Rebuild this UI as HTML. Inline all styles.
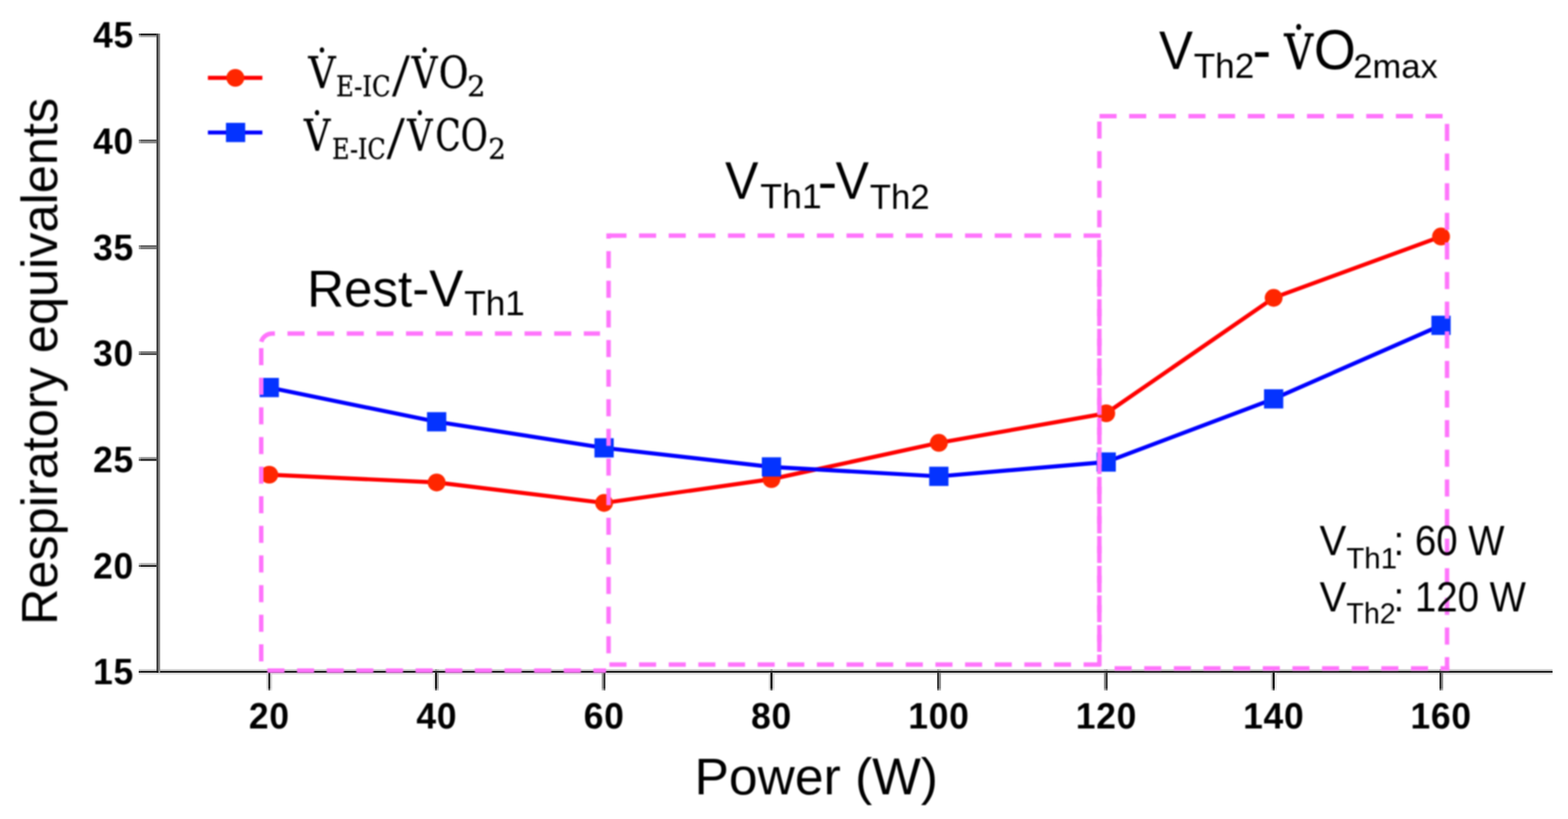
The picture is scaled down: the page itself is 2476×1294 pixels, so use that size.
<!DOCTYPE html>
<html lang="en">
<head>
<meta charset="utf-8">
<title>Respiratory equivalents vs Power</title>
<style>
html,body{margin:0;padding:0;background:#ffffff;}
body{width:2476px;height:1294px;overflow:hidden;}
svg{display:block;}
text{white-space:pre;}
</style>
</head>
<body>
<svg width="2476" height="1294" viewBox="0 0 2476 1294">
<defs>
<filter id="soft" x="0" y="0" width="2476" height="1294" filterUnits="userSpaceOnUse" color-interpolation-filters="sRGB"><feGaussianBlur stdDeviation="1.15"/></filter>
</defs>
<rect x="0" y="0" width="2476" height="1294" fill="#ffffff"/>
<g>
<rect x="221.96" y="52.96" width="25.14" height="2.94" fill="#212121"/>
<rect x="219.06" y="52.96" width="2.90" height="2.94" fill="#5f5f5f"/>
<rect x="221.96" y="55.90" width="25.14" height="3.00" fill="#a8a8a8"/>
<rect x="219.06" y="55.90" width="2.90" height="3.00" fill="#c1c1c1"/>
<rect x="221.96" y="220.50" width="25.14" height="3.10" fill="#545454"/>
<rect x="219.06" y="220.50" width="2.90" height="3.10" fill="#848484"/>
<rect x="221.96" y="223.60" width="25.14" height="2.90" fill="#878787"/>
<rect x="219.06" y="223.60" width="2.90" height="2.90" fill="#a9a9a9"/>
<rect x="221.96" y="387.50" width="25.14" height="3.00" fill="#5c5c5c"/>
<rect x="219.06" y="387.50" width="2.90" height="3.00" fill="#898989"/>
<rect x="221.96" y="390.50" width="25.14" height="3.30" fill="#787878"/>
<rect x="219.06" y="390.50" width="2.90" height="3.30" fill="#9e9e9e"/>
<rect x="221.96" y="554.90" width="25.14" height="3.20" fill="#808080"/>
<rect x="219.06" y="554.90" width="2.90" height="3.20" fill="#a3a3a3"/>
<rect x="221.96" y="558.10" width="25.14" height="2.90" fill="#4f4f4f"/>
<rect x="219.06" y="558.10" width="2.90" height="2.90" fill="#808080"/>
<rect x="221.96" y="721.90" width="25.14" height="3.00" fill="#a1a1a1"/>
<rect x="219.06" y="721.90" width="2.90" height="3.00" fill="#bbbbbb"/>
<rect x="221.96" y="724.90" width="25.14" height="3.40" fill="#333333"/>
<rect x="219.06" y="724.90" width="2.90" height="3.40" fill="#6c6c6c"/>
<rect x="221.96" y="889.40" width="25.14" height="3.30" fill="#b8b8b8"/>
<rect x="219.06" y="889.40" width="2.90" height="3.30" fill="#cccccc"/>
<rect x="221.96" y="892.70" width="25.14" height="3.00" fill="#212121"/>
<rect x="219.06" y="892.70" width="2.90" height="3.00" fill="#5f5f5f"/>
<rect x="221.96" y="896.90" width="25.14" height="2.10" fill="#ededed"/>
<rect x="219.06" y="896.90" width="2.90" height="2.10" fill="#f2f2f2"/>
<rect x="219.10" y="1057.10" width="2232.50" height="2.94" fill="#cfcfcf"/>
<rect x="219.10" y="1062.85" width="2232.50" height="2.90" fill="#dedede"/>
<rect x="219.10" y="1060.04" width="2232.50" height="2.81" fill="#191919"/>
<rect x="219.10" y="1060.04" width="2.90" height="2.81" fill="#383838"/>
<rect x="247.10" y="52.96" width="2.90" height="1009.89" fill="#3d3d3d"/>
<rect x="250.00" y="52.96" width="3.00" height="1009.89" fill="#8c8c8c"/>
<rect x="247.10" y="1060.04" width="2.90" height="2.81" fill="#0d0d0d"/>
<rect x="420.80" y="1062.85" width="3.00" height="25.15" fill="#d6d6d6"/>
<rect x="420.80" y="1088.00" width="3.00" height="2.90" fill="#e2e2e2"/>
<rect x="423.80" y="1062.85" width="3.00" height="25.15" fill="#191919"/>
<rect x="423.80" y="1088.00" width="3.00" height="2.90" fill="#5e5e5e"/>
<rect x="423.80" y="1057.10" width="3.00" height="2.94" fill="#a5a5a5"/>
<rect x="426.80" y="1062.85" width="2.90" height="25.15" fill="#d6d6d6"/>
<rect x="426.80" y="1088.00" width="2.90" height="2.90" fill="#e2e2e2"/>
<rect x="683.70" y="1062.85" width="3.20" height="25.15" fill="#ededed"/>
<rect x="683.70" y="1088.00" width="3.20" height="2.90" fill="#f3f3f3"/>
<rect x="686.90" y="1062.85" width="3.16" height="25.15" fill="#191919"/>
<rect x="686.90" y="1088.00" width="3.16" height="2.90" fill="#5e5e5e"/>
<rect x="686.90" y="1057.10" width="3.16" height="2.94" fill="#a5a5a5"/>
<rect x="690.06" y="1062.85" width="2.90" height="25.15" fill="#ababab"/>
<rect x="690.06" y="1088.00" width="2.90" height="2.90" fill="#c4c4c4"/>
<rect x="690.06" y="1057.10" width="2.90" height="2.94" fill="#bfbfbf"/>
<rect x="950.10" y="1062.85" width="2.80" height="25.15" fill="#999999"/>
<rect x="950.10" y="1088.00" width="2.80" height="2.90" fill="#b8b8b8"/>
<rect x="950.10" y="1057.10" width="2.80" height="2.94" fill="#bcbcbc"/>
<rect x="952.90" y="1062.85" width="3.13" height="25.15" fill="#3b3b3b"/>
<rect x="952.90" y="1088.00" width="3.13" height="2.90" fill="#767676"/>
<rect x="952.90" y="1057.10" width="3.13" height="2.94" fill="#ababab"/>
<rect x="1213.80" y="1062.85" width="2.75" height="25.15" fill="#d9d9d9"/>
<rect x="1213.80" y="1088.00" width="2.75" height="2.90" fill="#e4e4e4"/>
<rect x="1216.55" y="1062.85" width="3.35" height="25.15" fill="#141414"/>
<rect x="1216.55" y="1088.00" width="3.35" height="2.90" fill="#5b5b5b"/>
<rect x="1216.55" y="1057.10" width="3.35" height="2.94" fill="#a4a4a4"/>
<rect x="1219.90" y="1062.85" width="3.00" height="25.15" fill="#d1d1d1"/>
<rect x="1219.90" y="1088.00" width="3.00" height="2.90" fill="#dfdfdf"/>
<rect x="1479.90" y="1062.85" width="2.90" height="25.15" fill="#292929"/>
<rect x="1479.90" y="1088.00" width="2.90" height="2.90" fill="#696969"/>
<rect x="1479.90" y="1057.10" width="2.90" height="2.94" fill="#a8a8a8"/>
<rect x="1482.80" y="1062.85" width="3.10" height="25.15" fill="#8f8f8f"/>
<rect x="1482.80" y="1088.00" width="3.10" height="2.90" fill="#b0b0b0"/>
<rect x="1482.80" y="1057.10" width="3.10" height="2.94" fill="#bababa"/>
<rect x="1743.10" y="1062.85" width="2.80" height="25.15" fill="#8f8f8f"/>
<rect x="1743.10" y="1088.00" width="2.80" height="2.90" fill="#b0b0b0"/>
<rect x="1743.10" y="1057.10" width="2.80" height="2.94" fill="#bababa"/>
<rect x="1745.90" y="1062.85" width="3.20" height="25.15" fill="#3d3d3d"/>
<rect x="1745.90" y="1088.00" width="3.20" height="2.90" fill="#777777"/>
<rect x="1745.90" y="1057.10" width="3.20" height="2.94" fill="#acacac"/>
<rect x="2006.80" y="1062.85" width="2.75" height="25.15" fill="#c4c4c4"/>
<rect x="2006.80" y="1088.00" width="2.75" height="2.90" fill="#d6d6d6"/>
<rect x="2009.55" y="1062.85" width="3.35" height="25.15" fill="#0d0d0d"/>
<rect x="2009.55" y="1088.00" width="3.35" height="2.90" fill="#555555"/>
<rect x="2009.55" y="1057.10" width="3.35" height="2.94" fill="#a3a3a3"/>
<rect x="2012.90" y="1062.85" width="3.00" height="25.15" fill="#e6e6e6"/>
<rect x="2012.90" y="1088.00" width="3.00" height="2.90" fill="#ededed"/>
<rect x="2273.04" y="1062.85" width="3.02" height="25.15" fill="#303030"/>
<rect x="2273.04" y="1088.00" width="3.02" height="2.90" fill="#6e6e6e"/>
<rect x="2273.04" y="1057.10" width="3.02" height="2.94" fill="#a9a9a9"/>
<rect x="2276.06" y="1062.85" width="2.90" height="25.15" fill="#8f8f8f"/>
<rect x="2276.06" y="1088.00" width="2.90" height="2.90" fill="#b0b0b0"/>
<rect x="2276.06" y="1057.10" width="2.90" height="2.94" fill="#bababa"/>
</g>

<g filter="url(#soft)">

<line x1="328.3" y1="123" x2="414.3" y2="123" stroke="#ff0000" stroke-width="6.4"/>
<circle cx="371.6" cy="123" r="14.1" fill="#ff2600"/>
<line x1="328.3" y1="209.4" x2="414.3" y2="209.4" stroke="#0000ff" stroke-width="6.4"/>
<rect x="356.8" y="194.1" width="30.4" height="30.4" fill="#0433ff"/>
<polyline points="425.2,750.0 689.5,762.3 953.9,794.6 1218.2,757.0 1482.5,699.7 1746.8,653.0 2011.2,470.6 2275.5,373.7" fill="none" stroke="#ff0000" stroke-width="6.4" stroke-linejoin="round"/>
<circle cx="425.2" cy="750.0" r="14.1" fill="#ff2600"/>
<circle cx="689.5" cy="762.3" r="14.1" fill="#ff2600"/>
<circle cx="953.9" cy="794.6" r="14.1" fill="#ff2600"/>
<circle cx="1218.2" cy="757.0" r="14.1" fill="#ff2600"/>
<circle cx="1482.5" cy="699.7" r="14.1" fill="#ff2600"/>
<circle cx="1746.8" cy="653.0" r="14.1" fill="#ff2600"/>
<circle cx="2011.2" cy="470.6" r="14.1" fill="#ff2600"/>
<circle cx="2275.5" cy="373.7" r="14.1" fill="#ff2600"/>
<polyline points="425.2,612.3 689.5,666.4 953.9,707.6 1218.2,737.7 1482.5,752.6 1746.8,730.0 2011.2,630.2 2275.5,514.0" fill="none" stroke="#0000ff" stroke-width="6.4" stroke-linejoin="round"/>
<rect x="410.0" y="597.1" width="30.4" height="30.4" fill="#0433ff"/>
<rect x="674.3" y="651.2" width="30.4" height="30.4" fill="#0433ff"/>
<rect x="938.7" y="692.4" width="30.4" height="30.4" fill="#0433ff"/>
<rect x="1203.0" y="722.5" width="30.4" height="30.4" fill="#0433ff"/>
<rect x="1467.3" y="737.4" width="30.4" height="30.4" fill="#0433ff"/>
<rect x="1731.6" y="714.8" width="30.4" height="30.4" fill="#0433ff"/>
<rect x="1996.0" y="615.0" width="30.4" height="30.4" fill="#0433ff"/>
<rect x="2260.3" y="498.8" width="30.4" height="30.4" fill="#0433ff"/>
<g stroke="#ff74fc" stroke-width="7" fill="none" stroke-linecap="butt">
<path d="M412.5 540 A18 18 0 0 1 430.5 527 H433"/>
<line x1="433" y1="527" x2="947.5" y2="527" stroke-dasharray="27.0 19.8" stroke-dashoffset="25.90"/>
<line x1="412.5" y1="545" x2="412.5" y2="1047" stroke-dasharray="27.0 19.8" stroke-dashoffset="41.80"/>
<line x1="421.5" y1="1059.5" x2="957" y2="1059.5" stroke-dasharray="27.0 19.8" stroke-dashoffset="46.10"/>
<line x1="961" y1="368.8" x2="961" y2="1042" stroke-dasharray="27.0 19.8" stroke-dashoffset="18.80"/>
<line x1="957.5" y1="372.3" x2="1739.5" y2="372.3" stroke-dasharray="27.0 19.8" stroke-dashoffset="42.00"/>
<line x1="959" y1="1050" x2="1739.5" y2="1050" stroke-dasharray="27.0 19.8" stroke-dashoffset="43.50"/>
<line x1="1736" y1="376" x2="1736" y2="1046.5" stroke-dasharray="27.0 19.8" stroke-dashoffset="28.30"/>
<line x1="1736" y1="191.9" x2="1736" y2="1052.5" stroke-dasharray="27.0 19.8" stroke-dashoffset="0.00"/>
<line x1="1736.2" y1="183.6" x2="2278" y2="183.6" stroke-dasharray="27.0 19.8" stroke-dashoffset="0.00"/>
<line x1="2285" y1="195.8" x2="2285" y2="1059.5" stroke-dasharray="27.0 19.8" stroke-dashoffset="0.00"/>
<line x1="1760" y1="1056" x2="2288.5" y2="1056" stroke-dasharray="27.0 19.8" stroke-dashoffset="0.00"/>
</g>
<g>
<text transform="translate(147.03 75.20) scale(0.9650 1.0000)" font-family='"Liberation Sans", Arial, Helvetica, sans-serif' font-weight="bold" font-size="58" fill="#000000" letter-spacing="1.17">45</text>
<text transform="translate(147.03 242.87) scale(0.9650 1.0000)" font-family='"Liberation Sans", Arial, Helvetica, sans-serif' font-weight="bold" font-size="58" fill="#000000" letter-spacing="1.17">40</text>
<text transform="translate(147.03 410.54) scale(0.9650 1.0000)" font-family='"Liberation Sans", Arial, Helvetica, sans-serif' font-weight="bold" font-size="58" fill="#000000" letter-spacing="1.17">35</text>
<text transform="translate(147.03 578.21) scale(0.9650 1.0000)" font-family='"Liberation Sans", Arial, Helvetica, sans-serif' font-weight="bold" font-size="58" fill="#000000" letter-spacing="1.17">30</text>
<text transform="translate(147.03 745.88) scale(0.9650 1.0000)" font-family='"Liberation Sans", Arial, Helvetica, sans-serif' font-weight="bold" font-size="58" fill="#000000" letter-spacing="1.17">25</text>
<text transform="translate(147.03 913.55) scale(0.9650 1.0000)" font-family='"Liberation Sans", Arial, Helvetica, sans-serif' font-weight="bold" font-size="58" fill="#000000" letter-spacing="1.17">20</text>
<text transform="translate(147.03 1081.22) scale(0.9650 1.0000)" font-family='"Liberation Sans", Arial, Helvetica, sans-serif' font-weight="bold" font-size="58" fill="#000000" letter-spacing="1.17">15</text>
<text transform="translate(393.12 1151.10) scale(0.9650 1.0000)" font-family='"Liberation Sans", Arial, Helvetica, sans-serif' font-weight="bold" font-size="58" fill="#000000" letter-spacing="1.17">20</text>
<text transform="translate(657.45 1151.10) scale(0.9650 1.0000)" font-family='"Liberation Sans", Arial, Helvetica, sans-serif' font-weight="bold" font-size="58" fill="#000000" letter-spacing="1.17">40</text>
<text transform="translate(921.78 1151.10) scale(0.9650 1.0000)" font-family='"Liberation Sans", Arial, Helvetica, sans-serif' font-weight="bold" font-size="58" fill="#000000" letter-spacing="1.17">60</text>
<text transform="translate(1186.11 1151.10) scale(0.9650 1.0000)" font-family='"Liberation Sans", Arial, Helvetica, sans-serif' font-weight="bold" font-size="58" fill="#000000" letter-spacing="1.17">80</text>
<text transform="translate(1434.31 1151.10) scale(0.9650 1.0000)" font-family='"Liberation Sans", Arial, Helvetica, sans-serif' font-weight="bold" font-size="58" fill="#000000" letter-spacing="1.17">100</text>
<text transform="translate(1698.64 1151.10) scale(0.9650 1.0000)" font-family='"Liberation Sans", Arial, Helvetica, sans-serif' font-weight="bold" font-size="58" fill="#000000" letter-spacing="1.17">120</text>
<text transform="translate(1962.97 1151.10) scale(0.9650 1.0000)" font-family='"Liberation Sans", Arial, Helvetica, sans-serif' font-weight="bold" font-size="58" fill="#000000" letter-spacing="1.17">140</text>
<text transform="translate(2227.30 1151.10) scale(0.9650 1.0000)" font-family='"Liberation Sans", Arial, Helvetica, sans-serif' font-weight="bold" font-size="58" fill="#000000" letter-spacing="1.17">160</text>
<text transform="translate(1096.82 1255.20) scale(1.0050 1.0100)" font-family='"Liberation Sans", Arial, Helvetica, sans-serif' font-weight="normal" font-size="81" fill="#000000">Power (W)</text>
<text transform="translate(90.20 981.00) rotate(-90) translate(-6.48 0.00) scale(0.9964 0.9900)" font-family='"Liberation Sans", Arial, Helvetica, sans-serif' font-weight="normal" font-size="80" fill="#000000">Respiratory equivalents</text>
<text transform="translate(485.04 484.20) scale(1.0088 1.0200)" font-family='"Liberation Sans", Arial, Helvetica, sans-serif' font-weight="normal" font-size="80" fill="#000000">Rest-V</text>
<text transform="translate(732.91 498.20) scale(1.0302 1.0150)" font-family='"Liberation Sans", Arial, Helvetica, sans-serif' font-weight="normal" font-size="54" fill="#000000">Th1</text>
<text transform="translate(1145.02 313.60) scale(0.9548 1.0000)" font-family='"Liberation Sans", Arial, Helvetica, sans-serif' font-weight="normal" font-size="82.56" fill="#000000">V</text>
<text transform="translate(1200.50 329.30) scale(1.0437 1.0150)" font-family='"Liberation Sans", Arial, Helvetica, sans-serif' font-weight="normal" font-size="54" fill="#000000">Th1</text>
<text transform="translate(1291.11 315.98) scale(1.1692 1.0769)" font-family='"Liberation Sans", Arial, Helvetica, sans-serif' font-weight="normal" font-size="80" fill="#000000">-</text>
<text transform="translate(1319.42 313.60) scale(0.9548 1.0000)" font-family='"Liberation Sans", Arial, Helvetica, sans-serif' font-weight="normal" font-size="82.56" fill="#000000">V</text>
<text transform="translate(1373.53 329.60) scale(1.0135 1.0150)" font-family='"Liberation Sans", Arial, Helvetica, sans-serif' font-weight="normal" font-size="54" fill="#000000">Th2</text>
<text transform="translate(1830.23 109.20) scale(0.9477 1.0000)" font-family='"Liberation Sans", Arial, Helvetica, sans-serif' font-weight="normal" font-size="84.624" fill="#000000">V</text>
<text transform="translate(1884.92 123.20) scale(1.0270 1.0150)" font-family='"Liberation Sans", Arial, Helvetica, sans-serif' font-weight="normal" font-size="54" fill="#000000">Th2</text>
<text transform="translate(1977.85 112.13) scale(1.0800 1.1692)" font-family='"Liberation Sans", Arial, Helvetica, sans-serif' font-weight="normal" font-size="82" fill="#000000">-</text>
<text transform="translate(2028.27 109.20) scale(0.8876 0.9930)" font-family='"DejaVu Serif Condensed", "DejaVu Serif", "Liberation Serif", serif' font-weight="normal" font-size="78" font-stretch="condensed" fill="#000000" stroke="#000000" stroke-width="1.0" stroke-linejoin="round">V̇</text>
<text transform="translate(2074.65 109.29) scale(1.0368 1.0793)" font-family='"Liberation Sans", Arial, Helvetica, sans-serif' font-weight="normal" font-size="82" fill="#000000">O</text>
<text transform="translate(2137.03 123.20) scale(1.0089 1.0000)" font-family='"Liberation Sans", Arial, Helvetica, sans-serif' font-weight="normal" font-size="54" fill="#000000">2max</text>
<text transform="translate(2083.73 877.40) scale(0.9417 1.0000)" font-family='"Liberation Sans", Arial, Helvetica, sans-serif' font-weight="normal" font-size="67.08" fill="#000000">V</text>
<text transform="translate(2125.99 898.00) scale(1.0101 1.0150)" font-family='"Liberation Sans", Arial, Helvetica, sans-serif' font-weight="normal" font-size="46" fill="#000000">Th1</text>
<text transform="translate(2200.60 877.40) scale(0.9333 1.0300)" font-family='"Liberation Sans", Arial, Helvetica, sans-serif' font-weight="normal" font-size="65" fill="#000000">: 60 W</text>
<text transform="translate(2083.73 966.20) scale(0.9417 1.0000)" font-family='"Liberation Sans", Arial, Helvetica, sans-serif' font-weight="normal" font-size="67.08" fill="#000000">V</text>
<text transform="translate(2126.02 985.00) scale(0.9829 1.0150)" font-family='"Liberation Sans", Arial, Helvetica, sans-serif' font-weight="normal" font-size="46" fill="#000000">Th2</text>
<text transform="translate(2200.60 966.20) scale(0.9332 1.0300)" font-family='"Liberation Sans", Arial, Helvetica, sans-serif' font-weight="normal" font-size="65" fill="#000000">: 120 W</text>
<text transform="translate(486.97 138.60) scale(0.9447 0.9922)" font-family='"DejaVu Serif Condensed", "DejaVu Serif", "Liberation Serif", serif' font-weight="normal" font-size="70" font-stretch="condensed" fill="#000000" stroke="#000000" stroke-width="0.5" stroke-linejoin="round">V̇</text>
<text transform="translate(530.67 152.00) scale(0.9449 0.9954)" font-family='"DejaVu Serif Condensed", "DejaVu Serif", "Liberation Serif", serif' font-weight="normal" font-size="45" font-stretch="condensed" fill="#000000" stroke="#000000" stroke-width="0.5" stroke-linejoin="round">E-IC</text>
<text transform="translate(619.40 150.81) scale(1.0074 0.9908)" font-family='"Liberation Serif", "Times New Roman", serif' font-weight="normal" font-size="97" fill="#000000" stroke="#000000" stroke-width="0.8" stroke-linejoin="round">/</text>
<text transform="translate(649.95 138.60) scale(0.8957 0.9922)" font-family='"DejaVu Serif Condensed", "DejaVu Serif", "Liberation Serif", serif' font-weight="normal" font-size="70" font-stretch="condensed" fill="#000000" stroke="#000000" stroke-width="0.5" stroke-linejoin="round">V̇</text>
<text transform="translate(692.71 138.62) scale(0.9101 0.9811)" font-family='"DejaVu Serif Condensed", "DejaVu Serif", "Liberation Serif", serif' font-weight="normal" font-size="70" font-stretch="condensed" fill="#000000" stroke="#000000" stroke-width="0.5" stroke-linejoin="round">O</text>
<text transform="translate(737.63 152.00) scale(1.1158 0.9954)" font-family='"DejaVu Serif Condensed", "DejaVu Serif", "Liberation Serif", serif' font-weight="normal" font-size="45" font-stretch="condensed" fill="#000000" stroke="#000000" stroke-width="0.5" stroke-linejoin="round">2</text>
<text transform="translate(479.96 237.60) scale(0.9128 0.9922)" font-family='"DejaVu Serif Condensed", "DejaVu Serif", "Liberation Serif", serif' font-weight="normal" font-size="70" font-stretch="condensed" fill="#000000" stroke="#000000" stroke-width="0.5" stroke-linejoin="round">V̇</text>
<text transform="translate(524.51 250.80) scale(0.9275 0.9954)" font-family='"DejaVu Serif Condensed", "DejaVu Serif", "Liberation Serif", serif' font-weight="normal" font-size="45" font-stretch="condensed" fill="#000000" stroke="#000000" stroke-width="0.5" stroke-linejoin="round">E-IC</text>
<text transform="translate(611.10 249.61) scale(1.0296 0.9877)" font-family='"Liberation Serif", "Times New Roman", serif' font-weight="normal" font-size="97" fill="#000000" stroke="#000000" stroke-width="0.8" stroke-linejoin="round">/</text>
<text transform="translate(643.04 237.60) scale(0.8787 0.9922)" font-family='"DejaVu Serif Condensed", "DejaVu Serif", "Liberation Serif", serif' font-weight="normal" font-size="70" font-stretch="condensed" fill="#000000" stroke="#000000" stroke-width="0.5" stroke-linejoin="round">V̇</text>
<text transform="translate(687.60 237.62) scale(0.8280 0.9811)" font-family='"DejaVu Serif Condensed", "DejaVu Serif", "Liberation Serif", serif' font-weight="normal" font-size="70" font-stretch="condensed" fill="#000000" stroke="#000000" stroke-width="0.5" stroke-linejoin="round">CO</text>
<text transform="translate(770.93 250.80) scale(1.0789 0.9954)" font-family='"DejaVu Serif Condensed", "DejaVu Serif", "Liberation Serif", serif' font-weight="normal" font-size="45" font-stretch="condensed" fill="#000000" stroke="#000000" stroke-width="0.5" stroke-linejoin="round">2</text>
</g>
</g>
</svg>
</body>
</html>
